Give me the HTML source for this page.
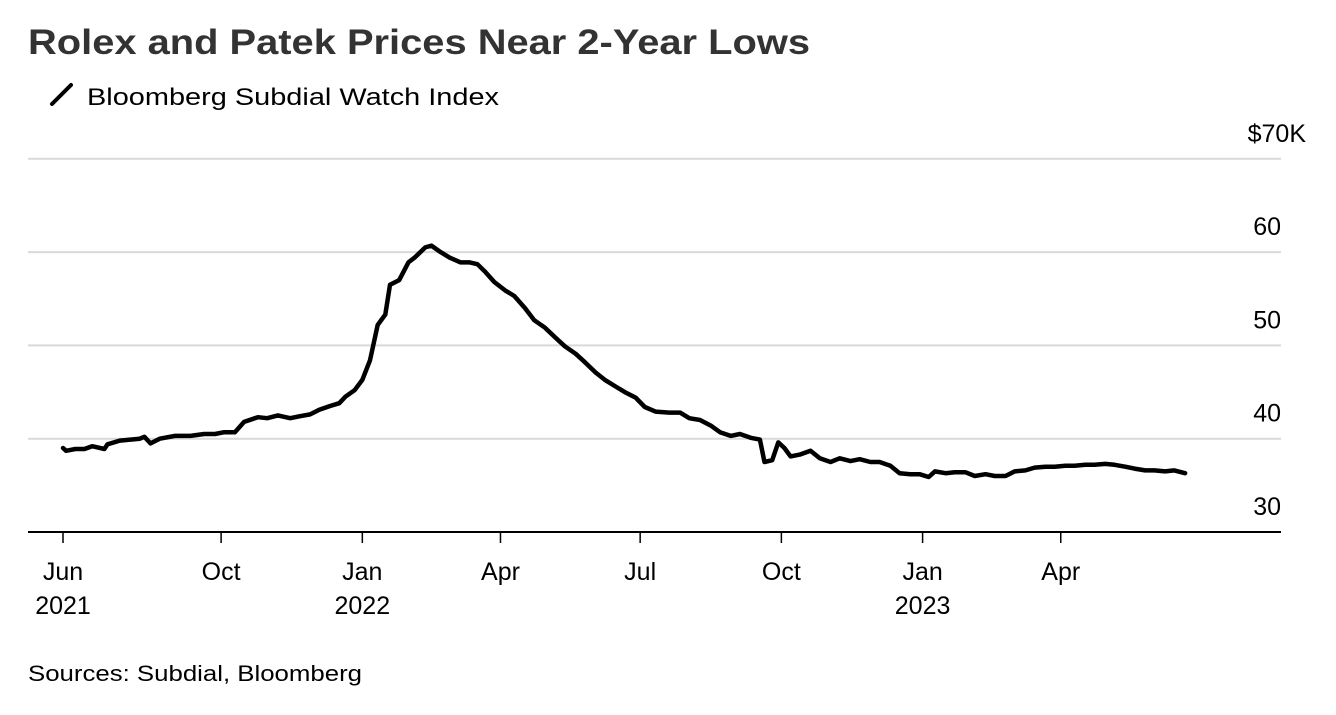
<!DOCTYPE html>
<html><head><meta charset="utf-8">
<style>
body{margin:0;background:#fff;width:1336px;height:710px;overflow:hidden;font-family:"Liberation Sans",Arial,sans-serif;}
svg text{font-family:"Liberation Sans",Arial,sans-serif;}
</style></head>
<body>
<svg id="chart" width="1336" height="710" xmlns="http://www.w3.org/2000/svg">
<text x="28" y="54" font-size="35" font-weight="bold" fill="#333" textLength="782" lengthAdjust="spacingAndGlyphs">Rolex and Patek Prices Near 2-Year Lows</text>
<g>
<line x1="52" y1="104" x2="71" y2="85" stroke="#000" stroke-width="4" stroke-linecap="round"/>
<text x="87" y="105" font-size="24" fill="#000" textLength="412" lengthAdjust="spacingAndGlyphs">Bloomberg Subdial Watch Index</text>
</g>
<g id="grid"></g><g id="xaxis"></g><g id="series"></g>
<text x="28" y="681" font-size="22" fill="#000" textLength="334" lengthAdjust="spacingAndGlyphs">Sources: Subdial, Bloomberg</text>
</svg>
<script>
const days=[0,2,8,14,19,27,29,37,44,50,53,57,63,73,83,92,99,105,112,118,127,133,140,148,154,161,167,174,180,184,190,195,200,205,210,213,219,225,229,236,240,246,252,259,265,270,275,281,288,294,301,307,314,321,327,334,340,347,353,360,366,373,379,386,395,402,408,415,422,428,435,441,448,454,457,462,466,470,474,480,487,493,500,506,513,519,526,532,539,545,552,558,564,568,575,581,588,594,601,607,614,620,627,633,640,646,653,659,666,672,679,685,692,698,705,711,718,724,731];
const values=[39.0,38.7,38.9,38.9,39.2,38.9,39.4,39.8,39.9,40.0,40.2,39.5,40.0,40.3,40.3,40.5,40.5,40.7,40.7,41.8,42.3,42.2,42.5,42.2,42.4,42.6,43.1,43.5,43.8,44.5,45.2,46.3,48.4,52.2,53.3,56.5,57.0,58.9,59.4,60.5,60.7,60.0,59.4,58.9,58.9,58.7,57.9,56.8,55.9,55.3,54.0,52.7,51.9,50.8,49.9,49.1,48.2,47.1,46.3,45.6,45.0,44.4,43.4,42.9,42.8,42.8,42.2,42.0,41.4,40.7,40.3,40.5,40.1,39.9,37.5,37.7,39.6,39.0,38.1,38.3,38.7,37.9,37.5,37.9,37.6,37.8,37.5,37.5,37.1,36.3,36.2,36.2,35.9,36.5,36.3,36.4,36.4,36.0,36.2,36.0,36.0,36.5,36.6,36.9,37.0,37.0,37.1,37.1,37.2,37.2,37.3,37.2,37.0,36.8,36.6,36.6,36.5,36.6,36.3];
const yTicks=[30,40,50,60,70];
const yTickLabels=["30","40","50","60","$70K"];
const xTickDays=[0,103,195,285,376,468,560,650];
const xTickMonths=["Jun","Oct","Jan","Apr","Jul","Oct","Jan","Apr"];
const xTickYears=["2021","","2022","","","","2023",""];
const NS="http://www.w3.org/2000/svg";
const X=d=>63+d*1.535;
const Y=v=>532-(v-30)*9.33;
function mk(t,a,p){const e=document.createElementNS(NS,t);for(const k in a)e.setAttribute(k,a[k]);p.appendChild(e);return e;}
const grid=document.getElementById('grid');
yTicks.forEach((v,i)=>{
  if(v>30){const l=mk('line',{x1:28,x2:1281,y1:Y(v),y2:Y(v),stroke:'#d9d9d9','stroke-width':2},grid);
  
  }
  const t=mk('text',{x:(v===70?1306:1281),y:Y(v)-17,'text-anchor':'end','font-size':25,fill:'#000'},grid);
  t.textContent=yTickLabels[i];
  
  
});
const xa=document.getElementById('xaxis');
const ax=mk('line',{x1:28,x2:1281,y1:532,y2:532,stroke:'#000','stroke-width':2},xa);


xTickDays.forEach((d,i)=>{
  const tk=mk('line',{x1:X(d),x2:X(d),y1:532,y2:543,stroke:'#000','stroke-width':1.5},xa);
  
  
  const t=mk('text',{x:X(d),y:580,'text-anchor':'middle','font-size':25,fill:'#000'},xa);
  t.textContent=xTickMonths[i];
  
  
  if(xTickYears[i]){const y=mk('text',{x:X(d),y:614,'text-anchor':'middle','font-size':25,fill:'#000'},xa);
  y.textContent=xTickYears[i];
  
  }
});
const pts=days.map((d,i)=>X(d).toFixed(1)+','+Y(values[i]).toFixed(1)).join(' ');
const pl=mk('polyline',{points:pts,fill:'none',stroke:'#000','stroke-width':4.5,'stroke-linejoin':'round','stroke-linecap':'round'},document.getElementById('series'));


</script>
</body></html>
